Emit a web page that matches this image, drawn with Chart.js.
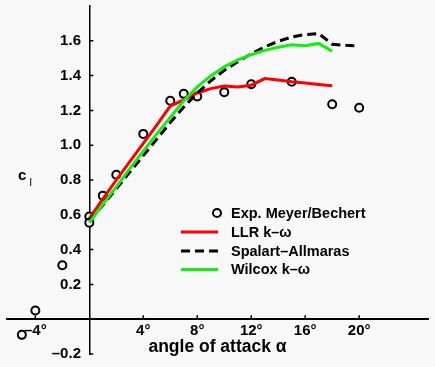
<!DOCTYPE html>
<html>
<head>
<meta charset="utf-8">
<script src="https://cdn.jsdelivr.net/npm/chart.js@4"></script>
<style>
  html, body { margin: 0; padding: 0; background: #f8f8f8; }
  canvas { display: block; }
</style>
</head>
<body>
<canvas id="chart" width="435" height="367"></canvas>
<script>
const BG = "#f8f8f8";
const FONT = "'Liberation Sans', Arial, Helvetica, sans-serif";

// experiment (circles)
const expAlpha = [-5, -4, -2, 0, 0, 1, 2, 4, 6, 7, 8, 10, 12, 15, 18, 20];
const expCl = [-0.09, 0.05, 0.31, 0.59, 0.555, 0.71, 0.83, 1.065, 1.255, 1.295, 1.28, 1.305, 1.35, 1.365, 1.235, 1.215];

// LLR k-omega
const llrAlpha = [0, 1, 2, 3, 4, 5, 6, 7, 8, 9, 10, 11, 12, 13, 14, 15, 16, 17, 18];
const llrCl = [0.58, 0.69, 0.80, 0.905, 1.01, 1.115, 1.225, 1.26, 1.30, 1.325, 1.34, 1.335, 1.345, 1.383, 1.375, 1.365, 1.357, 1.349, 1.341];

// Spalart-Allmaras
const saAlpha = [0, 1, 2, 3, 4, 5, 6, 7, 8, 9, 10, 11, 12, 13, 14, 15, 16, 17, 18, 19, 20];
const saCl = [0.565, 0.655, 0.75, 0.845, 0.94, 1.035, 1.13, 1.22, 1.30, 1.37, 1.43, 1.48, 1.525, 1.565, 1.597, 1.622, 1.636, 1.642, 1.58, 1.574, 1.571];

// Wilcox k-omega
const wilAlpha = [0, 1, 2, 3, 4, 5, 6, 7, 8, 9, 10, 11, 12, 13, 14, 15, 16, 17, 18];
const wilCl = [0.555, 0.66, 0.76, 0.865, 0.965, 1.065, 1.16, 1.255, 1.335, 1.398, 1.45, 1.49, 1.52, 1.545, 1.563, 1.577, 1.571, 1.585, 1.54];

const xTicks = [-4, 4, 8, 12, 16, 20];
const yTicks = [-0.2, 0.2, 0.4, 0.6, 0.8, 1.0, 1.2, 1.4, 1.6];

const pts = (xs, ys) => xs.map((x, i) => ({ x: x, y: ys[i] }));

const bgPlugin = {
  id: "bg",
  beforeDraw(chart) {
    const ctx = chart.ctx;
    ctx.save();
    ctx.fillStyle = BG;
    ctx.fillRect(0, 0, chart.width, chart.height);
    ctx.restore();
  }
};

// tick marks point inward from the axes
const tickMarks = {
  id: "tickMarks",
  beforeDatasetsDraw(chart) {
    const { ctx, scales: { x, y } } = chart;
    const x0 = x.getPixelForValue(0);
    const y0 = y.getPixelForValue(0);
    ctx.save();
    ctx.strokeStyle = "#000";
    ctx.lineWidth = 1.5;
    ctx.beginPath();
    yTicks.forEach(v => {
      const py = y.getPixelForValue(v);
      ctx.moveTo(x0, py);
      ctx.lineTo(x0 + 4, py);
    });
    xTicks.forEach(v => {
      const px = x.getPixelForValue(v);
      ctx.moveTo(px, y0);
      ctx.lineTo(px, y0 - 4);
    });
    ctx.stroke();

    // c_l label
    ctx.fillStyle = "#000";
    ctx.textBaseline = "alphabetic";
    ctx.textAlign = "left";
    ctx.font = "bold 15px " + FONT;
    ctx.fillText("c", 18, 180);
    ctx.font = "11px " + FONT;
    ctx.fillText("l", 29.5, 186);
    ctx.restore();
  }
};

const legendPlugin = {
  id: "myLegend",
  afterDraw(chart) {
    const ctx = chart.ctx;
    const ds = chart.data.datasets;
    const rows = [213, 232, 251, 269.5];
    ctx.save();
    ctx.font = "bold 14.5px " + FONT;
    ctx.textBaseline = "middle";
    ctx.textAlign = "left";
    ds.forEach((d, i) => {
      const yy = rows[i];
      if (d.showLine === false) {
        ctx.beginPath();
        ctx.arc(217, yy, d.pointRadius, 0, Math.PI * 2);
        ctx.fillStyle = d.pointBackgroundColor;
        ctx.fill();
        ctx.lineWidth = d.pointBorderWidth;
        ctx.strokeStyle = d.pointBorderColor;
        ctx.stroke();
      } else {
        ctx.beginPath();
        ctx.setLineDash(d.borderDash || []);
        ctx.lineWidth = d.borderWidth;
        ctx.strokeStyle = d.borderColor;
        ctx.moveTo(181, yy);
        ctx.lineTo(218, yy);
        ctx.stroke();
        ctx.setLineDash([]);
      }
      ctx.fillStyle = "#000";
      ctx.fillText(d.label, 231, yy + 0.5);
    });
    ctx.restore();
  }
};

new Chart(document.getElementById("chart"), {
  type: "line",
  data: {
    datasets: [
      {
        label: "Exp. Meyer/Bechert",
        data: pts(expAlpha, expCl),
        showLine: false,
        pointRadius: 4,
        pointBorderWidth: 2,
        pointBorderColor: "#000",
        pointBackgroundColor: BG,
        order: 5
      },
      {
        label: "LLR k–ω",
        data: pts(llrAlpha, llrCl),
        borderColor: "#ff0000",
        borderWidth: 3,
        pointRadius: 0,
        order: 3
      },
      {
        label: "Spalart–Allmaras",
        data: pts(saAlpha, saCl),
        borderColor: "#000000",
        borderDash: [9, 5],
        borderWidth: 3,
        pointRadius: 0,
        order: 2
      },
      {
        label: "Wilcox k–ω",
        data: pts(wilAlpha, wilCl),
        borderColor: "#11ee11",
        borderWidth: 3,
        pointRadius: 0,
        order: 1
      }
    ]
  },
  options: {
    responsive: false,
    animation: false,
    devicePixelRatio: 1,
    layout: { padding: { left: 7, right: 7, top: 4, bottom: 13 } },
    plugins: { legend: { display: false }, tooltip: { enabled: false } },
    scales: {
      x: {
        type: "linear",
        min: -6.1,
        max: 25.1,
        position: { y: 0 },
        grid: { display: false, drawTicks: false },
        border: { color: "#000", width: 2 },
        afterBuildTicks: s => { s.ticks = xTicks.map(v => ({ value: v })); },
        afterFit: s => { s.paddingLeft = 0; s.paddingRight = 0; },
        ticks: {
          autoSkip: false,
          maxRotation: 0,
          padding: 3,
          color: "#000",
          font: { family: FONT, size: 15, weight: "bold" },
          callback: v => (v < 0 ? "–" : "") + Math.abs(v) + "°"
        },
        title: {
          display: true,
          text: "angle of attack α",
          color: "#000",
          font: { family: FONT, size: 17.5, weight: "bold" },
          padding: { top: -7, bottom: 0 }
        }
      },
      y: {
        type: "linear",
        min: -0.2,
        max: 1.8,
        position: { x: 0 },
        grid: { display: false, drawTicks: false },
        border: { color: "#000", width: 1.5 },
        afterBuildTicks: s => { s.ticks = yTicks.map(v => ({ value: v })); },
        afterFit: s => { s.paddingTop = 0; s.paddingBottom = 0; },
        ticks: {
          autoSkip: false,
          color: "#000",
          font: { family: FONT, size: 15, weight: "bold" },
          // labels sit flush on an axis placed at x=0, so keep a gap with trailing spaces
          callback: v => (v < 0 ? "–" : "") + Math.abs(v).toFixed(1) + "  "
        }
      }
    }
  },
  plugins: [bgPlugin, tickMarks, legendPlugin]
});
</script>
</body>
</html>
